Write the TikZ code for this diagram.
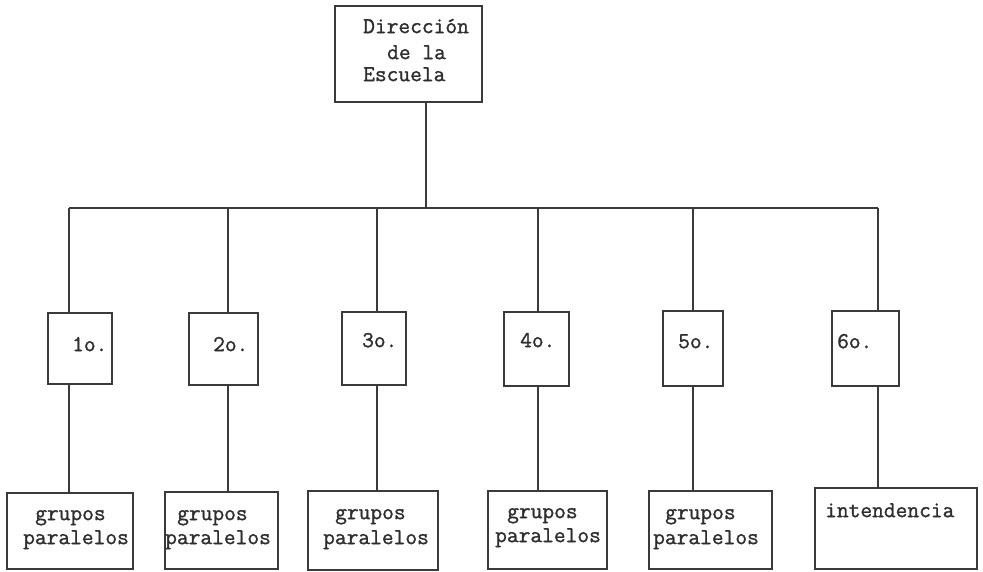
\documentclass[tikz,border=0pt]{standalone}
\usepackage{fontspec}
\newfontfamily\typer{Latin Modern Mono}[FakeBold=1.2]
\definecolor{ink}{HTML}{3A3A3A}
\definecolor{type}{HTML}{2E2E2E}
\begin{document}
\begin{tikzpicture}[x=1pt,y=-1pt,
  box/.style={draw=ink,line width=1.2pt,inner sep=0pt,rectangle},
  link/.style={draw=ink,line width=1.1pt},
  typed/.style={inner sep=0pt,anchor=mid west,text=type,font=\typer\fontsize{22.8}{24}\selectfont}]
\useasboundingbox[fill=white] (0,0) rectangle (983,572);

% head of the school
\node[box,minimum width=147pt,minimum height=96pt] (top) at (408.5,54) {};
\node[typed] (topa) at (363,31) {Dirección};
\node[typed] (topb) at (387,57) {de la};
\node[typed] (topc) at (363,79) {Escuela};

% grades
\node[box,minimum width=64pt,minimum height=71pt] (m1) at (80,348.5) {};
\node[box,minimum width=69pt,minimum height=72pt] (m2) at (223.5,349) {};
\node[box,minimum width=64pt,minimum height=73pt] (m3) at (374,348.5) {};
\node[box,minimum width=65pt,minimum height=74pt] (m4) at (536.5,349) {};
\node[box,minimum width=60pt,minimum height=75pt] (m5) at (693,348.5) {};
\node[box,minimum width=67pt,minimum height=75pt] (m6) at (865.5,348.5) {};
\node[typed] (l1) at (72,349) {1o.};
\node[typed] (l2) at (213,349) {2o.};
\node[typed] (l3) at (362,345) {3o.};
\node[typed] (l4) at (520,345) {4o.};
\node[typed] (l5) at (678,346) {5o.};
\node[typed] (l6) at (837,346) {6o.};

% groups under each grade
\node[box,minimum width=126pt,minimum height=76pt] (g1) at (70,531) {};
\node[box,minimum width=113pt,minimum height=77pt] (g2) at (221.5,530.5) {};
\node[box,minimum width=130pt,minimum height=79pt] (g3) at (373,530.5) {};
\node[box,minimum width=119pt,minimum height=78pt] (g4) at (547.5,530) {};
\node[box,minimum width=123pt,minimum height=78pt] (g5) at (710.5,530) {};
\node[box,minimum width=162pt,minimum height=81pt] (g6) at (896,528.5) {};
\node[typed] (g1a) at (35,518) {grupos};
\node[typed] (g1b) at (23,542) {paralelos};
\node[typed] (g2a) at (177,518) {grupos};
\node[typed] (g2b) at (165,542) {paralelos};
\node[typed] (g3a) at (335,517) {grupos};
\node[typed] (g3b) at (323,542) {paralelos};
\node[typed] (g4a) at (507,516) {grupos};
\node[typed] (g4b) at (495,540) {paralelos};
\node[typed] (g5a) at (665,517) {grupos};
\node[typed] (g5b) at (653,542) {paralelos};
\node[typed] (g6a) at (825,515) {intendencia};

% junctions on the distribution bar
\coordinate (hub) at (426,208);
\coordinate (j1) at (69,208);
\coordinate (j2) at (228,208);
\coordinate (j3) at (377,208);
\coordinate (j4) at (538,208);
\coordinate (j5) at (693,208);
\coordinate (j6) at (878,208);

\draw[link] (hub |- top.south) -- (hub);
\draw[link] (j1) -- (j6);
\foreach \i in {1,...,6}{
  \draw[link] (j\i) -- (j\i |- m\i.north);
  \draw[link] (j\i |- m\i.south) -- (j\i |- g\i.north);
}
\end{tikzpicture}
\end{document}
